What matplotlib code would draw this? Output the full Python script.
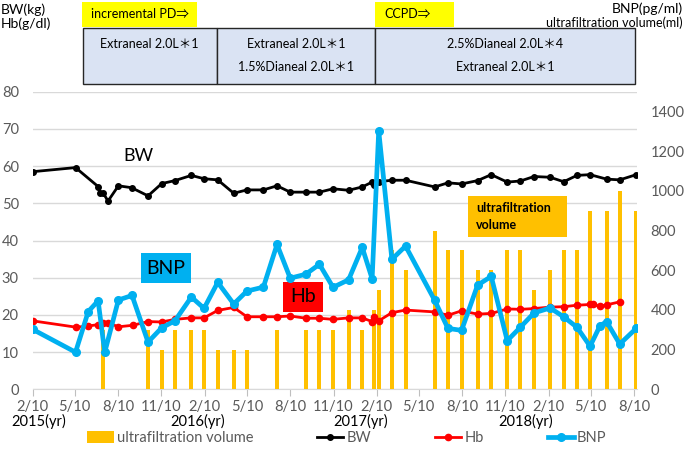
import matplotlib
matplotlib.use('Agg')
import matplotlib.pyplot as plt
import matplotlib.dates as mdates
import pandas as pd
from matplotlib.patches import Rectangle, Patch
from matplotlib.lines import Line2D

plt.rcParams['font.family'] = ['Lato', 'Noto Sans CJK JP', 'DejaVu Sans']

# ---------------- data ----------------
bw_dates = ['2015-02-10', '2015-05-12', '2015-06-29', '2015-07-03', '2015-07-10', '2015-07-20',
            '2015-08-11', '2015-09-08', '2015-10-13', '2015-11-11', '2015-12-09', '2016-01-13',
            '2016-02-09', '2016-03-09', '2016-04-12', '2016-05-10', '2016-06-14', '2016-07-13',
            '2016-08-10', '2016-09-13', '2016-10-11', '2016-11-09', '2016-12-12', '2017-01-10',
            '2017-01-31', '2017-02-05', '2017-02-14', '2017-03-14', '2017-04-12', '2017-06-13',
            '2017-07-11', '2017-08-09', '2017-09-12', '2017-10-11', '2017-11-14', '2017-12-12',
            '2018-01-10', '2018-02-13', '2018-03-14', '2018-04-11', '2018-05-09', '2018-06-13',
            '2018-07-11', '2018-08-15']
bw_values = [58.5, 59.6, 54.5, 52.9, 52.7, 50.6,
             54.7, 54.2, 52.0, 55.3, 56.1, 57.5,
             56.6, 56.3, 52.7, 53.6, 53.6, 54.7,
             53.0, 53.0, 53.0, 53.9, 53.5, 54.4,
             55.7, 54.8, 55.8, 56.2, 56.2, 54.4,
             55.5, 55.2, 56.1, 57.7, 55.7, 56.0,
             57.2, 57.0, 55.8, 57.5, 57.7, 56.5,
             56.3, 57.7]

hb_dates = ['2015-02-10', '2015-05-13', '2015-06-08', '2015-06-29', '2015-07-10', '2015-07-20',
            '2015-08-11', '2015-09-10', '2015-10-13', '2015-11-11', '2015-12-09', '2016-01-13',
            '2016-02-09', '2016-03-09', '2016-04-12', '2016-05-10', '2016-06-14', '2016-07-13',
            '2016-08-10', '2016-09-13', '2016-10-11', '2016-11-09', '2016-12-12', '2017-01-10',
            '2017-01-31', '2017-02-05', '2017-02-14', '2017-03-14', '2017-04-12', '2017-06-13',
            '2017-07-11', '2017-08-09', '2017-09-12', '2017-10-11', '2017-11-14', '2017-12-12',
            '2018-01-10', '2018-02-13', '2018-03-14', '2018-04-11', '2018-05-09', '2018-05-15',
            '2018-05-30', '2018-06-13', '2018-07-11']
hb_values = [18.4, 16.7, 17.0, 17.4, 17.7, 17.9,
             16.8, 17.2, 18.2, 18.1, 18.8, 19.2,
             19.2, 21.2, 22.0, 19.5, 19.5, 19.5,
             19.7, 19.1, 19.1, 18.8, 19.2, 19.2,
             18.2, 19.5, 18.4, 20.6, 21.3, 20.8,
             19.9, 21.1, 20.2, 20.4, 21.6, 21.5,
             21.7, 22.1, 22.2, 22.6, 22.8, 22.8,
             22.3, 22.7, 23.5]

bnp_dates = ['2015-02-10', '2015-05-12', '2015-06-08', '2015-06-29', '2015-07-13', '2015-08-11',
             '2015-09-09', '2015-10-13', '2015-11-11', '2015-12-09', '2016-01-13', '2016-02-09',
             '2016-03-09', '2016-04-12', '2016-05-10', '2016-06-14', '2016-07-13', '2016-08-10',
             '2016-09-12', '2016-10-11', '2016-11-09', '2016-12-12', '2017-01-10', '2017-01-31',
             '2017-02-14', '2017-03-14', '2017-04-12', '2017-06-13', '2017-07-11', '2017-08-09',
             '2017-09-12', '2017-10-11', '2017-11-14', '2017-12-12', '2018-01-10', '2018-02-13',
             '2018-03-14', '2018-04-11', '2018-05-09', '2018-05-30', '2018-06-13', '2018-07-11',
             '2018-08-15']
bnp_values = [302, 187, 392, 446, 186, 450,
              473, 238, 310, 345, 465, 408,
              539, 430, 495, 515, 730, 560,
              580, 630, 514, 552, 715, 557,
              1303, 655, 722, 448, 307, 297,
              525, 569, 245, 313, 385, 410,
              365, 313, 217, 320, 341, 228,
              307]

uf_dates = ['2015-07-10', '2015-10-13', '2015-11-11', '2015-12-09', '2016-01-13', '2016-02-09',
            '2016-03-09', '2016-04-12', '2016-05-10', '2016-07-13', '2016-09-13', '2016-10-11',
            '2016-11-09', '2016-12-12', '2017-01-10', '2017-02-05', '2017-02-14', '2017-03-14',
            '2017-04-12', '2017-06-13', '2017-07-11', '2017-08-09', '2017-09-12', '2017-10-11',
            '2017-11-14', '2017-12-12', '2018-01-10', '2018-02-13', '2018-03-14', '2018-04-11',
            '2018-05-09', '2018-06-13', '2018-07-11', '2018-08-15']
uf_values = [300, 300, 200, 300, 300, 300,
             200, 200, 200, 300, 300, 300,
             300, 400, 300, 400, 500, 700,
             600, 800, 700, 700, 600, 600,
             700, 700, 500, 600, 700, 700,
             900, 900, 1000, 900]

xtick_dates = ['2015-02-10', '2015-05-10', '2015-08-10', '2015-11-10', '2016-02-10', '2016-05-10',
               '2016-08-10', '2016-11-10', '2017-02-10', '2017-05-10', '2017-08-10', '2017-11-10',
               '2018-02-10', '2018-05-10', '2018-08-10']
xtick_labels = ['2/10', '5/10', '8/10', '11/10', '2/10', '5/10', '8/10', '11/10',
                '2/10', '5/10', '8/10', '11/10', '2/10', '5/10', '8/10']
year_labels = ['2015(yr)', '2016(yr)', '2017(yr)', '2018(yr)']
year_label_dates = ['2015-02-23', '2016-01-26', '2017-01-07', '2017-12-23']

left_ticks = [0, 10, 20, 30, 40, 50, 60, 70, 80]
right_ticks = [0, 200, 400, 600, 800, 1000, 1200, 1400]

header_boxes = [
    ['Extraneal 2.0L＊1'],
    ['Extraneal 2.0L＊1', '1.5%Dianeal 2.0L＊1'],
    ['2.5%Dianeal 2.0L＊4', 'Extraneal 2.0L＊1'],
]

# ---------------- figure ----------------
W, H = 685, 450
fig = plt.figure(figsize=(W / 100, H / 100), dpi=100)


def fx(x):
    return x / W


def fy(y):
    return 1 - y / H


ax_left, ax_right, ax_top, ax_bot = 32.7, 636.7, 91.7, 389.3
rect = [fx(ax_left), fy(ax_bot), (ax_right - ax_left) / W, (ax_bot - ax_top) / H]

ax = fig.add_axes(rect)
axr = ax.twinx()
axl = ax.twinx()
axn = ax.twinx()
ax.set_zorder(0)
axr.set_zorder(1)
axl.set_zorder(2)
axn.set_zorder(3)
for a in (axr, axl, axn):
    a.patch.set_visible(False)
for a in (ax, axr, axl, axn):
    for s in a.spines.values():
        s.set_visible(False)

tocdate = lambda lst: mdates.date2num(pd.to_datetime(lst))

gray = '#595959'
ax.set_ylim(0, 80)
ax.set_yticks(left_ticks)
ax.grid(axis='y', color='#d9d9d9', lw=1)
ax.tick_params(axis='y', length=0, pad=10, labelsize=10.5, labelcolor=gray)
ax.set_xlim(tocdate(['2015-02-10'])[0], tocdate(['2018-08-16'])[0])
ax.set_xticks(tocdate(xtick_dates))
ax.set_xticklabels(xtick_labels)
ax.tick_params(axis='x', length=5, color='#bfbfbf', labelsize=10.5, labelcolor=gray, pad=3)
ax.spines['bottom'].set_visible(True)
ax.spines['bottom'].set_color('#d9d9d9')

for lab, d in zip(year_labels, year_label_dates):
    ax.text(tocdate([d])[0], -0.108, lab, transform=ax.get_xaxis_transform(),
            ha='center', va='center', fontsize=10.5, color='black')

# bars
axr.bar(tocdate(uf_dates), uf_values, width=8.5, color='#ffc000', zorder=2)
axr.set_ylim(0, 1500)
axr.set_yticks(right_ticks)
axr.tick_params(axis='y', length=0, pad=10, labelsize=10.5, labelcolor=gray)

# BW, Hb on left scale
axl.plot(tocdate(bw_dates), bw_values, color='black', lw=2, marker='o', ms=4)
axl.plot(tocdate(hb_dates), hb_values, color='#ff0000', lw=2, marker='o', ms=4.5)
axl.set_ylim(0, 80)
axl.set_yticks([])

# BNP on right scale
axn.plot(tocdate(bnp_dates), bnp_values, color='#00b0f0', lw=3.4, marker='o', ms=5.5)
axn.set_ylim(0, 1500)
axn.set_yticks([])

# ---------------- in-chart labels ----------------
def box_text(x0, y0, x1, y1, face, text, fs):
    fig.add_artist(Rectangle((fx(x0), fy(y1)), (x1 - x0) / W, (y1 - y0) / H,
                             transform=fig.transFigure, facecolor=face, edgecolor='none'))
    if text:
        fig.text(fx((x0 + x1) / 2), fy((y0 + y1) / 2), text, ha='center', va='center',
                 fontsize=fs, color='black')


fig.text(fx(138), fy(156), 'BW', fontsize=13, ha='center', va='center')
box_text(140.5, 253, 191, 283, '#00b0f0', 'BNP', 14)
box_text(283, 282, 322.5, 312, '#ff0000', 'Hb', 14)
box_text(468, 196, 566.7, 237.3, '#ffc000', '', 9)
fig.text(fx(476), fy(216.5), 'ultrafiltration\nvolume', fontsize=9, fontweight='bold',
         ha='left', va='center', linespacing=1.5)

# ---------------- header ----------------
box_text(82, 1.7, 196.5, 26.7, '#ffff00', '', 9)
fig.text(fx(91), fy(14.5), 'incremental PD⇒', fontsize=9, ha='left', va='center')
box_text(374.7, 1.7, 454, 26.7, '#ffff00', '', 9)
fig.text(fx(384), fy(14.5), 'CCPD⇒', fontsize=9, ha='left', va='center')

box_edges = [82.7, 216.7, 375, 635]
for i, lines in enumerate(header_boxes):
    x0, x1 = box_edges[i], box_edges[i + 1]
    fig.add_artist(Rectangle((fx(x0), fy(84.3)), (x1 - x0) / W, (84.3 - 28.3) / H,
                             transform=fig.transFigure, facecolor='#dae3f3',
                             edgecolor='#262626', lw=1))
    for j, t in enumerate(lines):
        fig.text(fx((x0 + x1) / 2), fy(44 + 23 * j), t, fontsize=9, ha='center', va='center')

fig.text(fx(1), fy(10), 'BW(kg)', fontsize=10, ha='left', va='center')
fig.text(fx(1), fy(24), 'Hb(g/dl)', fontsize=10, ha='left', va='center')
fig.text(fx(683), fy(9), 'BNP(pg/ml)', fontsize=10, ha='right', va='center')
fig.text(fx(683), fy(23), 'ultrafiltration volume(ml)', fontsize=9, ha='right', va='center')

# ---------------- legend ----------------
handles = [Patch(facecolor='#ffc000', edgecolor='none'),
           Line2D([], [], color='black', lw=2, marker='o', ms=4),
           Line2D([], [], color='#ff0000', lw=2, marker='o', ms=4.5),
           Line2D([], [], color='#00b0f0', lw=3.4, marker='o', ms=5.5)]
labels = ['ultrafiltration volume', 'BW', 'Hb', 'BNP']
leg = fig.legend(handles, labels, loc='center', bbox_to_anchor=(fx(347), fy(438)), ncol=4,
                 frameon=False, fontsize=10.5, columnspacing=4.4, handlelength=1.8,
                 handleheight=0.9, handletextpad=0.2, labelcolor=gray)

fig.savefig('out.png', dpi=100)
